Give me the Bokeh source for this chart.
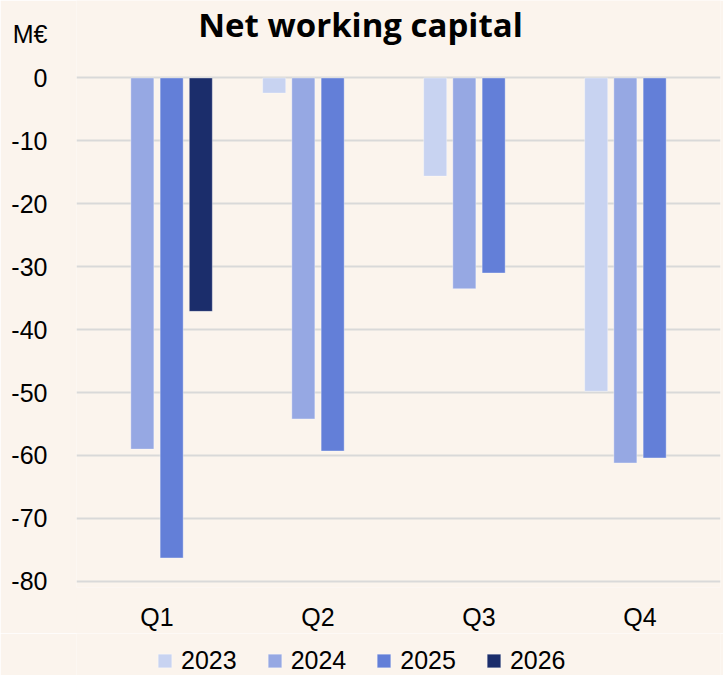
from bokeh.plotting import figure
from bokeh.layouts import column
from bokeh.models import (ColumnDataSource, FactorRange, Range1d, FixedTicker,
                          Legend, LegendItem, Label)
from bokeh.transform import dodge
from bokeh.embed import file_html
from bokeh.resources import INLINE

quarters = ["Q1", "Q2", "Q3", "Q4"]
years = ["2023", "2024", "2025", "2026"]
v2023 = [None, -2.4, -15.6, -49.8]
v2024 = [-59.0, -54.2, -33.5, -61.2]
v2025 = [-76.3, -59.3, -31.0, -60.4]
v2026 = [-37.1, None, None, None]
y_ticks = [0, -10, -20, -30, -40, -50, -60, -70, -80]
y_tick_labels = ["0", "-10", "-20", "-30", "-40", "-50", "-60", "-70", "-80"]
unit_label = "M€"
unit_pos = 7.0
chart_title = "Net working capital"

series = [v2023, v2024, v2025, v2026]
colors = ["#C8D3F1", "#96A8E3", "#637FD8", "#1B2D6B"]
offsets = [-0.272, -0.091, 0.091, 0.272]

BG = "#FBF4ED"
TICK_FONT = "Liberation Sans"
TITLE_FONT = "Open Sans"

# ---------------- main chart ----------------
p = figure(x_range=FactorRange(factors=quarters), y_range=Range1d(-81, 12.32),
           frame_width=644, frame_height=587,
           min_border_left=76, min_border_right=3, min_border_top=0, min_border_bottom=44,
           output_backend="svg", toolbar_location=None)
p.title.visible = False
p.background_fill_color = BG
p.border_fill_color = BG
p.outline_line_color = None

for yr, vals, col, off in zip(years, series, colors, offsets):
    qs = [q for q, v in zip(quarters, vals) if v is not None]
    vs = [v for v in vals if v is not None]
    src = ColumnDataSource(dict(q=qs, v=vs))
    p.vbar(x=dodge("q", off, range=p.x_range), top="v", bottom=0, width=0.143,
           source=src, fill_color=col, line_color="white", line_alpha=0.35, line_width=1)

p.xgrid.grid_line_color = None
p.ygrid.ticker = FixedTicker(ticks=y_ticks)
p.ygrid.grid_line_color = "#D9D9D9"
p.ygrid.grid_line_width = 2

overrides = {t: s for t, s in zip(y_ticks, y_tick_labels)}
overrides[unit_pos] = unit_label
p.yaxis.ticker = FixedTicker(ticks=y_ticks + [unit_pos])
p.yaxis.major_label_overrides = overrides
p.yaxis.axis_line_color = None
p.yaxis.major_tick_line_color = None
p.yaxis.major_tick_out = 0
p.yaxis.major_tick_in = 0
p.yaxis.minor_tick_line_color = None
p.yaxis.major_label_standoff = 29
p.yaxis.major_label_text_font = TICK_FONT
p.yaxis.major_label_text_font_size = "25px"
p.yaxis.major_label_text_color = "#000000"

p.xaxis.axis_label = None
p.xaxis.axis_line_color = None
p.xaxis.major_tick_line_color = None
p.xaxis.major_tick_out = 0
p.xaxis.major_tick_in = 0
p.xaxis.minor_tick_line_color = None
p.xaxis.major_label_standoff = 15
p.xaxis.major_label_text_font = TICK_FONT
p.xaxis.major_label_text_font_size = "25px"
p.xaxis.major_label_text_color = "#000000"

title = Label(x=284, y=563, x_units="screen", y_units="screen", text=chart_title,
              text_font=TITLE_FONT, text_font_style="bold", text_font_size="33px",
              text_align="center", text_baseline="alphabetic", text_color="#000000")
p.add_layout(title)

# ---------------- legend strip ----------------
p2 = figure(width=723, height=42, x_range=Range1d(0, 1), y_range=Range1d(0, 1),
            x_axis_type=None, y_axis_type=None,
            min_border_left=0, min_border_right=0, min_border_top=0, min_border_bottom=0,
            output_backend="svg", toolbar_location=None)
p2.title.visible = False
p2.background_fill_color = BG
p2.border_fill_color = BG
p2.outline_line_color = None

nan = float("nan")
items = []
for yr, col in zip(years, colors):
    proxy = ColumnDataSource(dict(x=[nan], top=[nan]))
    r = p2.vbar(x="x", top="top", bottom=0, width=0.1, source=proxy, fill_color=col,
                line_color="white", line_alpha=0.35, line_width=1)
    items.append(LegendItem(label=yr, renderers=[r]))

legend = Legend(items=items, orientation="horizontal", location=(80, 0),
                glyph_width=17, glyph_height=17, label_standoff=8, spacing=29,
                padding=0, margin=0, background_fill_alpha=0, border_line_color=None,
                label_text_font=TICK_FONT, label_text_font_size="25px",
                label_text_color="#000000")
p2.add_layout(legend, "center")

layout = column(p, p2, spacing=0)
open("out.html", "w").write(file_html(layout, INLINE))
